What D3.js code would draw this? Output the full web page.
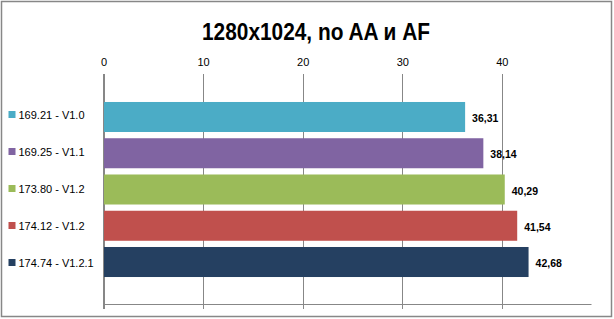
<!DOCTYPE html>
<html>
<head>
<meta charset="utf-8">
<script src="https://cdn.jsdelivr.net/npm/d3@7"></script>
<style>
  html, body { margin: 0; padding: 0; background: #fff; }
  svg { display: block; }
</style>
</head>
<body>
<svg id="chart" width="614" height="319"></svg>
<script>
const title = "1280x1024, no AA и AF";
const categories = ["169.21 - V1.0", "169.25 - V1.1", "173.80 - V1.2", "174.12 - V1.2", "174.74 - V1.2.1"];
const values = [36.31, 38.14, 40.29, 41.54, 42.68];
const valueLabels = ["36,31", "38,14", "40,29", "41,54", "42,68"];
const colors = ["#4BACC6", "#8064A2", "#9BBB59", "#C0504D", "#254061"];
const tickValues = [0, 10, 20, 30, 40];

const svg = d3.select("#chart");
const fontBase = "'Liberation Sans', Arial, sans-serif";
const grey = "#878787";

// outer border
svg.append("rect")
  .attr("x", 1.5).attr("y", 1.5).attr("width", 610).attr("height", 315)
  .attr("fill", "#fff").attr("stroke", grey).attr("stroke-width", 1.5);

// title
svg.append("text")
  .attr("x", 316).attr("y", 40)
  .attr("text-anchor", "middle")
  .attr("font-family", fontBase)
  .attr("font-weight", "bold")
  .attr("font-size", 23)
  .attr("textLength", 228)
  .attr("lengthAdjust", "spacingAndGlyphs")
  .attr("fill", "#000")
  .text(title);

const plotTop = 74, plotBottom = 304.5;
const x = d3.scaleLinear().domain([0, 49]).range([103.5, 591.5]);
const y = d3.scaleBand().domain(categories).range([95.75, 283.25]).padding(0.172);
const legendY = d3.scalePoint().domain(categories).range([114.5, 262.5]);

// gridlines
svg.append("g").selectAll("line").data(tickValues).join("line")
  .attr("x1", d => Math.round(x(d)) + 0.5).attr("x2", d => Math.round(x(d)) + 0.5)
  .attr("y1", plotTop).attr("y2", plotBottom + 4.5)
  .attr("stroke", grey).attr("stroke-width", 1);

// bottom axis line
svg.append("line")
  .attr("x1", x(0)).attr("x2", x.range()[1])
  .attr("y1", plotBottom).attr("y2", plotBottom)
  .attr("stroke", grey).attr("stroke-width", 1);

// top value axis labels
const axisTop = d3.axisTop(x).tickValues(tickValues).tickSize(0).tickPadding(0).tickFormat(d3.format("d"));
const gAxis = svg.append("g").attr("transform", `translate(0, 66)`).call(axisTop);
gAxis.select(".domain").remove();
gAxis.selectAll("text")
  .attr("font-family", fontBase).attr("font-size", 11).attr("fill", "#000")
  .attr("dy", 0);

// bars
svg.append("g").selectAll("rect").data(categories).join("rect")
  .attr("x", x(0))
  .attr("y", d => y(d))
  .attr("width", (d, i) => x(values[i]) - x(0))
  .attr("height", y.bandwidth())
  .attr("fill", (d, i) => colors[i]);

// left axis line
svg.append("line")
  .attr("x1", 103.5).attr("x2", 103.5)
  .attr("y1", plotTop).attr("y2", plotBottom + 4.5)
  .attr("stroke", grey).attr("stroke-width", 1);

// value labels
svg.append("g").selectAll("text").data(categories).join("text")
  .attr("x", (d, i) => x(values[i]) + 7)
  .attr("y", d => y(d) + y.bandwidth() / 2 + 5)
  .attr("font-family", fontBase).attr("font-weight", "bold").attr("font-size", 10.5)
  .attr("fill", "#000")
  .text((d, i) => valueLabels[i]);

// legend
const leg = svg.append("g").selectAll("g").data(categories).join("g")
  .attr("transform", d => `translate(0, ${legendY(d)})`);
leg.append("rect")
  .attr("x", 8.5).attr("y", -3.5).attr("width", 7).attr("height", 7)
  .attr("fill", (d, i) => colors[i]);
leg.append("text")
  .attr("x", 18.5).attr("y", 4)
  .attr("font-family", fontBase).attr("font-size", 11).attr("fill", "#000")
  .text(d => d);
</script>
</body>
</html>
